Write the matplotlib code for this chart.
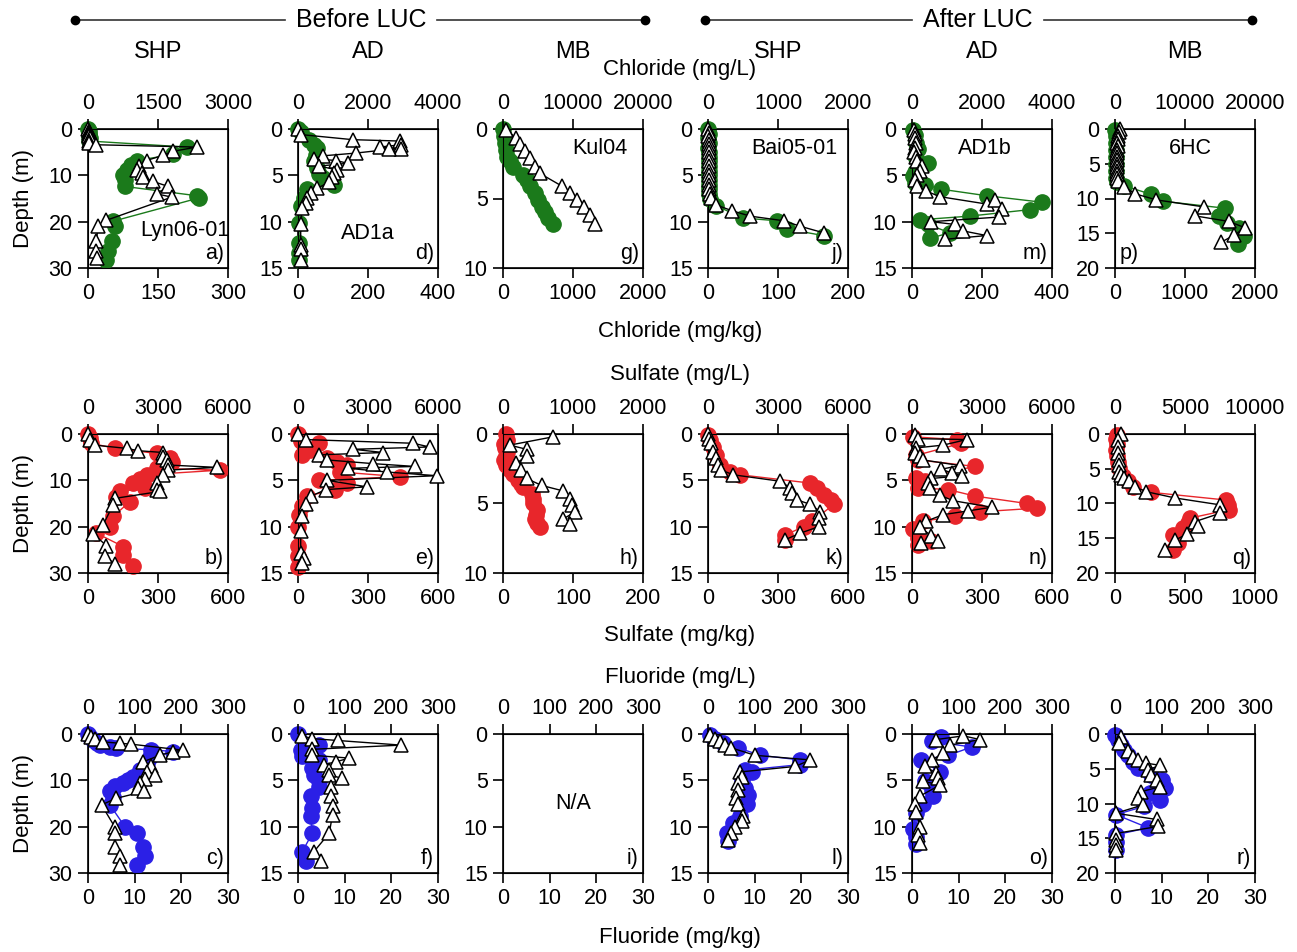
import numpy as np
import matplotlib
matplotlib.use("Agg")
import matplotlib.pyplot as plt

plt.rcParams['font.family'] = ['Liberation Sans', 'DejaVu Sans']

# --- Chloride: circles = mg/kg (bottom axis), triangles = mg/L (top axis) ---
a_dep_kg = [0.0, 0.5, 1.0, 1.5, 2.0, 2.6, 3.9, 5.5, 6.8, 7.7, 8.8, 9.9, 10.9, 12.4, 14.4, 14.9, 19.9, 21.0, 24.2, 26.4, 28.2]
a_kg = [1, 2, 3, 2, 4, 3, 212, 183, 104, 93, 83, 75, 79, 79, 233, 237, 54, 57, 52, 43, 39]
a_dep_L = [0.0, 0.4, 0.8, 1.2, 1.6, 2.0, 2.5, 3.0, 3.4, 3.9, 4.8, 5.7, 6.8, 7.9, 8.8, 9.5, 10.4, 11.3, 12.4, 14.0, 14.7, 19.7, 21.0, 24.2, 26.4, 27.8]
a_L = [10, 25, 15, 30, 20, 40, 30, 20, 180, 2333, 1830, 1600, 1256, 1100, 1040, 1150, 1185, 1385, 1723, 1470, 1795, 395, 215, 180, 180, 194]

d_dep_kg = [0.0, 0.36, 1.15, 1.7, 2.05, 2.8, 3.5, 4.2, 4.9, 5.3, 6.0, 6.5, 7.4, 8.3, 10.1, 12.3, 13.4, 14.1]
d_kg = [0, 8, 32, 46, 55, 51, 46, 55, 60, 70, 103, 27, 17, 8, 3, 3, 3, 3]
d_dep_L = [0.0, 0.6, 1.15, 1.3, 1.7, 1.95, 2.15, 2.2, 2.6, 2.9, 3.2, 3.4, 3.7, 4.0, 4.4, 4.75, 5.2, 5.75, 6.4, 6.9, 7.4, 8.0, 8.5, 10.3, 12.5, 13.0, 14.1]
d_L = [0, 77, 1560, 2900, 2950, 2330, 2950, 2600, 1650, 700, 460, 1080, 1420, 600, 1100, 1030, 980, 880, 550, 360, 270, 220, 120, 77, 77, 77, 77]

g_dep_kg = [0.0, 0.5, 1.0, 1.5, 2.0, 2.3, 2.7, 3.3, 3.7, 4.1, 4.6, 5.1, 5.6, 6.0, 6.4, 6.8]
g_kg = [0, 10, 24, 38, 58, 96, 144, 288, 336, 384, 456, 504, 552, 600, 648, 720]
g_dep_L = [0.1, 0.65, 1.1, 1.6, 2.1, 2.7, 3.2, 4.1, 4.6, 5.1, 5.6, 6.2, 6.8]
g_L = [480, 1920, 2400, 3120, 3840, 4560, 5280, 8390, 9590, 10550, 11510, 12470, 13190]

j_dep_kg = [0.0, 0.5, 1.0, 1.5, 2.0, 2.5, 3.0, 3.5, 4.0, 4.5, 5.0, 5.5, 6.0, 6.5, 7.0, 7.5, 8.3, 9.6, 9.9, 10.8, 11.5]
j_kg = [0.5, 0.8, 0.6, 1.0, 0.7, 0.9, 1.1, 0.8, 1.0, 1.2, 0.9, 1.3, 1.1, 1.5, 2.0, 3.0, 12, 50, 98, 113, 165]
j_dep_L = [0.0, 0.4, 0.8, 1.2, 1.6, 2.0, 2.5, 3.0, 3.5, 4.0, 4.5, 5.0, 5.5, 6.0, 6.5, 7.0, 7.4, 8.2, 8.8, 9.4, 9.9, 10.5, 11.2]
j_L = [5, 8, 6, 10, 12, 9, 14, 11, 15, 13, 16, 12, 18, 15, 20, 25, 48, 120, 336, 600, 1080, 1320, 1650]

m_dep_kg = [0.1, 0.6, 1.5, 2.2, 3.1, 3.7, 4.6, 5.1, 5.8, 6.0, 6.5, 7.2, 7.9, 8.7, 9.4, 9.8, 10.3, 11.2, 11.8]
m_kg = [3, 8, 12, 16, 12, 46, 8, 3, 8, 36, 84, 213, 371, 337, 165, 22, 46, 108, 51]
m_dep_L = [0.1, 0.5, 1.0, 1.5, 2.0, 2.5, 3.0, 3.5, 4.0, 4.5, 5.0, 5.5, 6.1, 6.7, 7.3, 8.1, 7.7, 8.6, 9.5, 10.0, 10.3, 11.0, 11.5, 11.9]
m_L = [60, 100, 80, 120, 90, 70, 110, 150, 300, 220, 130, 90, 150, 411, 794, 2134, 2370, 2560, 2490, 555, 1225, 1465, 2134, 938]

p_dep_kg = [0.2, 1.0, 2.0, 3.0, 4.0, 5.0, 6.0, 7.0, 7.6, 8.2, 9.4, 10.4, 11.4, 12.5, 13.5, 14.2, 15.4, 16.5]
p_kg = [5, 8, 10, 12, 10, 14, 12, 18, 25, 135, 519, 688, 1577, 1481, 1601, 1769, 1841, 1760]
p_dep_L = [0.0, 0.5, 1.0, 1.5, 2.0, 2.5, 3.0, 3.5, 4.0, 4.5, 5.0, 5.5, 6.0, 6.5, 7.0, 7.5, 8.3, 9.3, 10.2, 11.2, 12.5, 13.3, 14.2, 15.3, 16.3]
p_L = [700, 500, 400, 450, 350, 400, 300, 350, 250, 300, 280, 320, 260, 300, 350, 450, 1346, 2788, 5913, 12644, 11442, 16250, 18558, 16971, 15144]

# --- Sulfate ---
b_dep_kg = [0.0, 0.9, 2.0, 3.1, 4.2, 5.2, 6.0, 7.4, 7.8, 8.8, 9.8, 10.6, 11.7, 12.4, 13.5, 14.6, 17.8, 20.0, 21.4, 24.3, 26.1, 28.4]
b_kg = [0, 7, 14, 115, 294, 352, 359, 294, 567, 251, 222, 194, 244, 136, 122, 179, 108, 93, 36, 151, 151, 194]
b_dep_L = [0.0, 1.3, 2.4, 3.1, 3.6, 4.0, 4.9, 5.6, 6.7, 7.2, 7.8, 8.8, 10.6, 12.1, 12.4, 13.9, 15.3, 19.6, 21.5, 24.1, 26.4, 28.0]
b_L = [0, 72, 287, 1650, 2153, 3230, 3200, 3373, 3445, 5526, 3445, 3230, 2943, 2943, 3086, 1148, 1077, 646, 215, 789, 718, 1148]

e_dep_kg = [0.0, 0.8, 1.0, 1.7, 2.3, 2.6, 3.0, 3.3, 4.1, 4.6, 5.0, 5.3, 6.0, 6.7, 7.8, 8.7, 10.0, 12.1, 13.2, 14.3]
e_kg = [0, 14, 90, 50, 19, 126, 165, 208, 180, 435, 90, 208, 158, 40, 19, 4, 0, 0, 0, 0]
e_dep_L = [0.0, 0.6, 1.0, 1.4, 1.65, 2.0, 2.25, 2.8, 3.2, 3.5, 3.7, 4.1, 4.5, 5.0, 5.7, 6.0, 6.7, 7.6, 8.9, 10.5, 12.8, 13.4, 13.9]
e_L = [0, 330, 4935, 5640, 2370, 3660, 900, 1260, 3230, 5000, 2150, 3800, 5950, 1260, 2940, 1200, 550, 330, 190, 115, 115, 260, 190]

h_dep_kg = [0.0, 0.4, 0.7, 1.0, 1.3, 1.6, 1.9, 2.2, 2.6, 2.9, 3.3, 3.6, 3.8, 4.3, 4.7, 5.0, 5.5, 5.8, 6.1, 6.4, 6.7]
h_kg = [4, 6, 1, 3, 5, 4, 2, 4, 10, 14, 22, 25, 29, 41, 43, 43, 48, 47, 46, 48, 53]
h_dep_L = [0.2, 0.8, 1.1, 1.6, 2.1, 2.6, 3.2, 3.7, 4.1, 4.7, 5.1, 5.6, 6.1, 6.5]
h_L = [719, 96, 336, 336, 192, 264, 336, 552, 863, 959, 983, 1031, 863, 959]

k_dep_kg = [0.1, 0.6, 1.4, 2.3, 3.3, 4.1, 4.4, 5.3, 5.8, 6.6, 7.1, 7.6, 9.4, 10.0, 10.9, 11.4]
k_kg = [0, 7, 22, 36, 50, 94, 137, 439, 468, 497, 525, 540, 446, 410, 331, 331]
k_dep_L = [0.0, 0.5, 1.0, 1.9, 2.6, 3.3, 3.9, 4.4, 5.1, 5.8, 6.4, 7.1, 7.6, 8.4, 9.1, 10.0, 10.7, 11.4]
k_L = [0, 43, 115, 216, 331, 432, 576, 1079, 3094, 3525, 3597, 3813, 4388, 4820, 4748, 4748, 3957, 3309]

n_dep_kg = [0.3, 0.6, 1.0, 2.3, 2.8, 3.5, 4.8, 5.1, 5.8, 6.0, 6.7, 7.5, 8.0, 8.4, 8.9, 9.4, 10.3, 11.2, 11.6, 12.0]
n_kg = [4, 191, 212, 19, 26, 270, 19, 55, 26, 155, 270, 492, 535, 291, 184, 47, 4, 26, 83, 26]
n_dep_L = [0.1, 0.5, 0.6, 1.2, 1.5, 2.1, 2.4, 2.8, 3.4, 3.8, 4.2, 4.5, 4.8, 5.3, 5.8, 6.6, 7.2, 7.9, 8.3, 8.7, 9.4, 10.0, 11.0, 11.6, 11.8]
n_L = [115, 258, 2340, 1335, 187, 115, 330, 474, 2053, 1263, 1693, 2124, 832, 689, 761, 1191, 1765, 3416, 2411, 1335, 617, 330, 832, 1119, 402]

q_dep_kg = [0.1, 0.7, 1.5, 2.3, 3.2, 4.0, 4.9, 6.1, 6.8, 7.6, 8.4, 9.5, 10.2, 10.9, 12.1, 12.8, 13.5, 14.5, 15.7, 16.7]
q_kg = [15, 10, 12, 8, 14, 18, 31, 55, 91, 127, 260, 793, 808, 812, 536, 524, 488, 416, 452, 416]
q_dep_L = [0.0, 0.9, 1.8, 2.8, 3.7, 4.4, 5.4, 5.9, 6.4, 6.8, 7.6, 8.3, 9.2, 10.2, 11.4, 12.6, 13.3, 14.4, 15.3, 16.7]
q_L = [433, 192, 192, 192, 313, 313, 313, 433, 673, 1034, 1394, 2236, 4279, 7524, 7524, 5721, 5962, 5120, 4279, 3558]

# --- Fluoride ---
c_dep_kg = [0.0, 0.6, 1.3, 2.0, 2.4, 2.7, 3.1, 3.4, 3.8, 4.9, 6.3, 7.8, 9.2, 9.9, 10.6, 11.3, 12.4, 13.5, 15.3, 20.0, 21.4, 24.3, 26.4, 28.2]
c_kg = [0, 0.4, 1.1, 2.0, 2.5, 4.7, 6.1, 13.6, 18.3, 13.3, 12.6, 11.1, 9.7, 8.6, 7.5, 5.7, 4.7, 5.4, 4.7, 7.9, 10.4, 11.8, 12.2, 10.4]
c_dep_L = [0.0, 0.6, 1.1, 1.7, 2.0, 2.2, 3.5, 3.8, 4.6, 6.0, 7.0, 8.1, 8.8, 9.8, 10.6, 11.7, 12.4, 13.9, 15.3, 20.0, 21.4, 24.3, 26.4, 28.2]
c_L = [0, 7, 14, 32, 68, 93, 204, 183, 154, 118, 136, 126, 143, 122, 111, 108, 120, 60, 29, 57, 57, 57, 68, 68]

f_dep_kg = [0.0, 1.2, 1.7, 2.4, 2.8, 3.7, 4.4, 5.1, 5.7, 6.7, 8.0, 8.9, 10.7, 12.7, 13.7]
f_kg = [0, 4.5, 0.6, 0.9, 4.5, 3.1, 3.4, 4.5, 4.5, 2.7, 3.1, 2.7, 3.1, 0.9, 1.7]
f_dep_L = [0.2, 0.5, 0.7, 1.2, 1.65, 2.3, 2.6, 3.0, 3.3, 3.9, 4.4, 4.8, 5.7, 6.7, 7.8, 8.7, 10.7, 12.7, 13.7]
f_L = [9, 31, 85, 221, 31, 31, 110, 81, 56, 67, 67, 95, 70, 70, 74, 74, 67, 34, 49]

i_dep_kg, i_kg, i_dep_L, i_L = [], [], [], []  # N/A

l_dep_kg = [0.1, 0.5, 1.0, 1.5, 2.3, 2.8, 3.3, 3.9, 4.1, 5.0, 5.8, 6.6, 7.6, 8.9, 9.6, 10.7, 11.6]
l_kg = [0.4, 1.4, 3.2, 6.5, 11.2, 19.8, 19.8, 7.9, 9.4, 7.2, 7.9, 8.6, 8.3, 6.8, 5.4, 4.0, 4.3]
l_dep_L = [0.1, 0.5, 0.8, 1.2, 1.5, 2.3, 2.8, 3.5, 4.1, 4.6, 5.3, 6.0, 6.9, 7.6, 8.9, 9.4, 10.0, 10.7, 11.4]
l_L = [4, 14, 25, 36, 50, 101, 219, 187, 68, 72, 65, 65, 61, 65, 76, 72, 58, 50, 43]

o_dep_kg = [0.3, 0.8, 1.4, 2.3, 2.8, 4.1, 5.1, 6.0, 6.7, 7.6, 8.5, 10.3, 11.1, 11.9]
o_kg = [6.3, 4.2, 12.8, 7.8, 2.0, 6.0, 2.7, 4.2, 4.5, 2.4, 0.9, 0.2, 0.9, 0.9]
o_dep_L = [0.6, 0.2, 0.6, 1.2, 2.1, 2.8, 3.5, 4.2, 4.7, 5.1, 5.5, 6.7, 7.6, 8.4, 10.0, 10.9, 11.8]
o_L = [52, 110, 146, 81, 67, 42, 27, 52, 56, 24, 60, 17, 6, 9, 17, 13, 17]

r_dep_kg = [0.1, 0.9, 1.6, 2.3, 3.0, 4.0, 4.9, 5.9, 6.6, 7.8, 8.5, 9.5, 10.4, 11.6, 13.5, 14.5, 15.5, 16.7]
r_kg = [0, 0.6, 1.3, 2.0, 2.7, 3.8, 4.9, 7.8, 10.0, 10.7, 7.4, 9.6, 6.3, 0.2, 7.1, 0.2, 0.2, 0.2]
r_dep_L = [0.4, 1.3, 2.5, 3.3, 3.7, 4.2, 4.5, 5.2, 5.9, 6.6, 7.6, 8.3, 9.2, 10.2, 11.4, 12.3, 13.3, 14.3, 15.2, 15.9, 16.7]
r_L = [13, 9, 27, 38, 49, 67, 96, 70, 78, 89, 96, 56, 49, 60, 2, 89, 93, 2, 2, 2, 2]

# --- panel layout (rows = ions, columns = sites) ---
letters = [['a', 'd', 'g', 'j', 'm', 'p'],
           ['b', 'e', 'h', 'k', 'n', 'q'],
           ['c', 'f', 'i', 'l', 'o', 'r']]
ions = ['Chloride', 'Sulfate', 'Fluoride']
colors = ['#1b7a1b', '#e8262b', '#2b20e6']
kg_max = [[300, 400, 2000, 200, 400, 2000],
          [600, 600, 200, 600, 600, 1000],
          [30, 30, 30, 30, 30, 30]]
dep_max = [[30, 15, 10, 15, 15, 20],
           [30, 15, 10, 15, 15, 20],
           [30, 15, 15, 15, 15, 20]]
sites = {'a': 'Lyn06-01', 'd': 'AD1a', 'g': 'Kul04', 'j': 'Bai05-01', 'm': 'AD1b', 'p': '6HC', 'i': 'N/A'}
site_pos = {'a': (0.69, 0.27), 'd': (0.5, 0.245), 'g': (0.69, 0.86), 'j': (0.62, 0.86),
            'm': (0.52, 0.86), 'p': (0.54, 0.86), 'i': (0.5, 0.5)}
data = {k: (globals()[k + '_dep_kg'], globals()[k + '_kg'], globals()[k + '_dep_L'], globals()[k + '_L'])
        for row in letters for k in row}

W, H = 1297, 952
fig = plt.figure(figsize=(W / 100, H / 100), dpi=100)
col_left = [88, 298, 503, 708, 912, 1115]
row_top = [129, 434, 734]
bw, bh = 140, 139
FS = 15.5

for r in range(3):
    for c in range(6):
        key = letters[r][c]
        ax = fig.add_axes([col_left[c] / W, 1 - (row_top[r] + bh) / H, bw / W, bh / H])
        xm = kg_max[r][c]
        dm = dep_max[r][c]
        ax.set_xlim(0, xm)
        ax.set_ylim(dm, 0)
        nt = 4 if r == 2 else 3
        ax.set_xticks(np.linspace(0, xm, nt))
        ax.set_yticks(np.arange(0, dm + 0.1, 10 if dm == 30 else 5))
        ax.tick_params(direction='out', length=7, width=1.2, labelsize=FS, pad=4)
        for s in ax.spines.values():
            s.set_linewidth(1.2)
        dk, vk, dl, vl = data[key]
        ax.plot(vk, dk, '-o', color=colors[r], lw=1, ms=11, mec=colors[r], clip_on=False, zorder=3)
        ax2 = ax.twiny()
        ax2.set_xlim(0, xm * 10)
        ax2.set_xticks(np.linspace(0, xm * 10, nt))
        ax2.tick_params(direction='out', length=7, width=1.2, labelsize=FS, pad=4)
        ax2.plot(vl, dl, '-^', color='black', lw=1, ms=10.5, mfc='white', mec='black', mew=1.1,
                 clip_on=False, zorder=4)
        lx, ha = (0.03, 'left') if key == 'p' else (0.97, 'right')
        ax.text(lx, 0.03, key + ')', transform=ax.transAxes, ha=ha, va='bottom', fontsize=FS, zorder=6)
        if key in sites:
            ax.text(*site_pos[key], sites[key], transform=ax.transAxes, ha='center', va='center',
                    fontsize=FS, zorder=6)
        if c == 0:
            ax.set_ylabel('Depth (m)', fontsize=16)
            ax.yaxis.set_label_coords(-54 / bw, 0.5)

# ion titles
title_y_L = [70, 375, 678]
title_y_kg = [331, 635, 937]
for r in range(3):
    fig.text(680 / W, 1 - title_y_L[r] / H, ions[r] + ' (mg/L)', ha='center', va='center', fontsize=16)
    fig.text(680 / W, 1 - title_y_kg[r] / H, ions[r] + ' (mg/kg)', ha='center', va='center', fontsize=16)

# header
def header(x0, x1, xc, label, half):
    y = 1 - 20 / H
    fig.add_artist(plt.Line2D([x0 / W, (xc - half) / W], [y, y], color='#333333', lw=1.2))
    fig.add_artist(plt.Line2D([(xc + half) / W, x1 / W], [y, y], color='#333333', lw=1.2))
    fig.add_artist(plt.Line2D([x0 / W, x1 / W], [y, y], ls='none', marker='o', ms=6, color='black'))
    fig.text(xc / W, y, label, ha='center', va='center', fontsize=18)

header(75, 645, 361, 'Before LUC', 76)
header(705, 1252, 978, 'After LUC', 66)
for c, name in enumerate(['SHP', 'AD', 'MB', 'SHP', 'AD', 'MB']):
    fig.text((col_left[c] + bw / 2) / W, 1 - 52 / H, name, ha='center', va='center', fontsize=17)

fig.savefig('out.png', dpi=100)
